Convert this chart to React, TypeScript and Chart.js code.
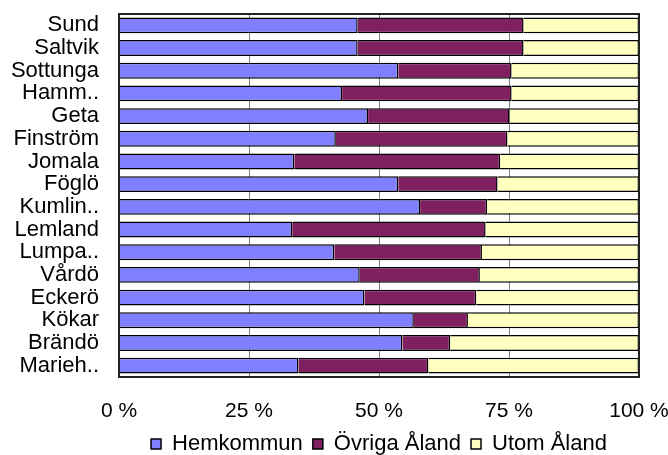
import React, { useEffect, useRef } from "react";
import { Chart, registerables } from "chart.js";

Chart.register(...registerables);

const categories = [
  "Sund", "Saltvik", "Sottunga", "Hamm..", "Geta", "Finström", "Jomala", "Föglö",
  "Kumlin..", "Lemland", "Lumpa..", "Vårdö", "Eckerö", "Kökar", "Brändö", "Marieh..",
];
const hemkommun = [45.9, 45.9, 53.7, 42.9, 47.9, 41.7, 33.7, 53.7, 57.9, 33.3, 41.4, 46.3, 47.2, 56.7, 54.5, 34.5];
const ovrigaAland = [31.9, 31.9, 21.8, 32.6, 27.2, 33.0, 39.6, 19.1, 12.9, 37.2, 28.4, 23.1, 21.5, 10.4, 9.2, 25.0];
const utomAland = [22.2, 22.2, 24.5, 24.5, 24.9, 25.3, 26.7, 27.2, 29.2, 29.5, 30.2, 30.6, 31.3, 32.9, 36.3, 40.5];
const seriesNames = ["Hemkommun", "Övriga Åland", "Utom Åland"];
const xTicks = [0, 25, 50, 75, 100];

const FONT = "'Liberation Sans', Arial, sans-serif";

const framePlugin = {
  id: "frame",
  afterDraw(chart: any) {
    const { ctx, chartArea } = chart;
    ctx.save();
    ctx.strokeStyle = "#222";
    ctx.lineWidth = 2;
    ctx.strokeRect(chartArea.left, chartArea.top, chartArea.right - chartArea.left, chartArea.bottom - chartArea.top);
    ctx.restore();
  },
};

export default function App() {
  const ref = useRef<HTMLCanvasElement | null>(null);
  useEffect(() => {
    if (!ref.current) return;
    const chart = new Chart(ref.current, {
      type: "bar",
      data: {
        labels: categories,
        datasets: [
          { label: seriesNames[0], data: hemkommun, backgroundColor: "#8080ff", borderColor: "#000", borderWidth: 1.5 },
          { label: seriesNames[1], data: ovrigaAland, backgroundColor: "#802060", borderColor: "#000", borderWidth: 1.5 },
          { label: seriesNames[2], data: utomAland, backgroundColor: "#ffffc0", borderColor: "#000", borderWidth: 1.5 },
        ],
      },
      options: {
        indexAxis: "y",
        animation: false,
        responsive: false,
        maintainAspectRatio: false,
        datasets: { bar: { categoryPercentage: 1, barPercentage: 0.7 } },
        layout: { padding: { top: 14, right: 29, left: 0, bottom: -10 } },
        scales: {
          x: {
            stacked: true,
            min: 0,
            max: 100,
            afterBuildTicks: (s: any) => { s.ticks = xTicks.map((v) => ({ value: v })); },
            afterFit: (s: any) => { s.height = 46; s.paddingLeft = 0; s.paddingRight = 0; },
            grid: { color: "#808080", lineWidth: 1, drawTicks: false },
            border: { display: false },
            ticks: {
              padding: 22,
              color: "#000",
              font: { family: FONT, size: 21 },
              callback: (v: any) => `${v} %`,
              maxRotation: 0,
            },
          },
          y: {
            stacked: true,
            afterFit: (s: any) => { s.width = 119; s.paddingTop = 0; s.paddingBottom = 0; },
            grid: { display: false, drawTicks: false },
            border: { display: false },
            ticks: { padding: 20, color: "#000", font: { family: FONT, size: 22 }, autoSkip: false },
          },
        },
        plugins: {
          legend: {
            position: "bottom",
            fullSize: false,
            labels: {
              boxWidth: 10,
              boxHeight: 10,
              padding: 10,
              color: "#000",
              font: { family: FONT, size: 22 },
            },
          },
          tooltip: { enabled: false },
        },
      },
      plugins: [framePlugin],
    });
    return () => chart.destroy();
  }, []);
  return (
    <div style={{ position: "fixed", left: 0, top: 0, width: 668, height: 455, background: "#fff" }}>
      <canvas ref={ref} width={668} height={455} />
    </div>
  );
}
